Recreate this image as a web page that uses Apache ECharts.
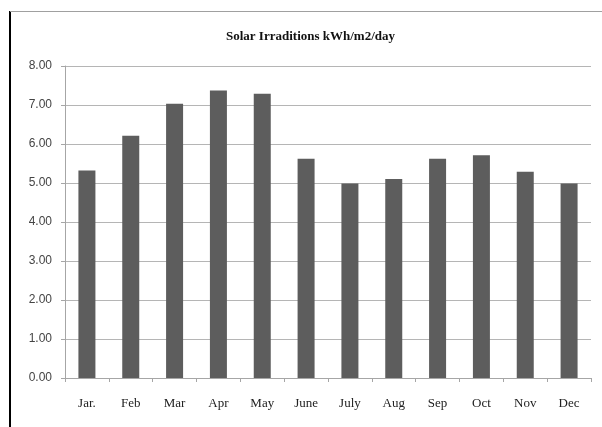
<!DOCTYPE html>
<html>
<head>
<meta charset="utf-8">
<title>Solar Irraditions</title>
<script src="https://cdn.jsdelivr.net/npm/echarts@6/dist/echarts.min.js"></script>
<style>
  html, body { margin: 0; padding: 0; background: #fff; }
  #chart { width: 602px; height: 427px; }
</style>
</head>
<body>
<div id="chart"></div>
<script>
// data
var months = ["Jar.", "Feb", "Mar", "Apr", "May", "June", "July", "Aug", "Sep", "Oct", "Nov", "Dec"];
var irradiation = [5.32, 6.21, 7.03, 7.37, 7.29, 5.62, 4.99, 5.10, 5.62, 5.71, 5.29, 4.99];
var yTicks = [0, 1, 2, 3, 4, 5, 6, 7, 8];

var myChart = echarts.init(document.getElementById("chart"));

var option = {
  animation: false,
  title: {
    text: "Solar Irraditions kWh/m2/day",
    left: 221,
    top: 25,
    textStyle: {
      fontFamily: "Liberation Serif",
      fontSize: 13,
      fontWeight: "bold",
      color: "#111"
    }
  },
  // frame round the chart: thick left edge, thin grey top edge
  graphic: [
    { type: "rect", shape: { x: 9, y: 11, width: 2, height: 416 }, style: { fill: "#000" } },
    { type: "line", shape: { x1: 10, y1: 11.5, x2: 602, y2: 11.5 }, style: { stroke: "#a0a0a0", lineWidth: 1 } }
  ],
  grid: {
    left: 65,
    right: 11,
    top: 66,
    bottom: 49
  },
  xAxis: {
    type: "category",
    data: months,
    axisTick: { show: true, length: 4, lineStyle: { color: "#a6a6a6" } },
    axisLine: { lineStyle: { color: "#a6a6a6" } },
    axisLabel: {
      margin: 19,
      fontFamily: "Liberation Serif",
      fontSize: 13,
      color: "#222"
    }
  },
  yAxis: {
    type: "value",
    min: yTicks[0],
    max: yTicks[yTicks.length - 1],
    interval: 1,
    axisLine: { show: true, lineStyle: { color: "#a6a6a6" } },
    axisTick: { show: true, length: 4, lineStyle: { color: "#a6a6a6" } },
    splitLine: { lineStyle: { color: "#b5b5b5" } },
    axisLabel: {
      margin: 13,
      fontFamily: "Liberation Sans",
      fontSize: 12,
      color: "#444",
      formatter: function (v) { return v.toFixed(2); }
    }
  },
  series: [
    {
      type: "bar",
      data: irradiation,
      barWidth: 17,
      itemStyle: { color: "#5d5d5d" }
    }
  ]
};

myChart.setOption(option);
</script>
</body>
</html>
